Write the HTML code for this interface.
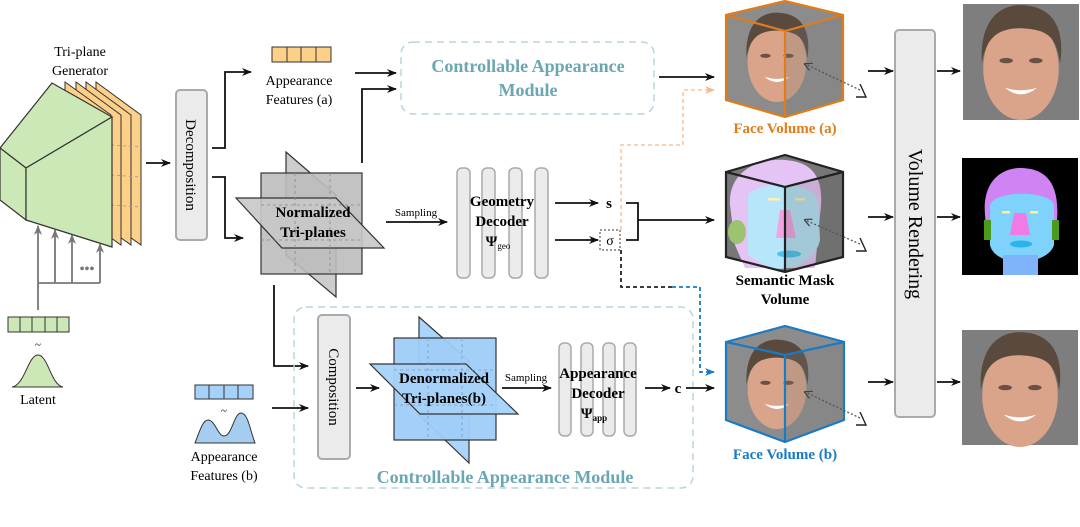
<!DOCTYPE html>
<html><head><meta charset="utf-8"><style>
html,body{margin:0;padding:0;background:#fff;width:1080px;height:527px;overflow:hidden}
svg{display:block}
text{font-family:"Liberation Serif",serif}
.b{font-weight:bold}
</style></head><body>
<svg width="1080" height="527" viewBox="0 0 1080 527" xmlns="http://www.w3.org/2000/svg">
<defs>
<marker id="ar" markerWidth="10" markerHeight="8" refX="9" refY="4" orient="auto" markerUnits="userSpaceOnUse"><path d="M0,0 L10,4 L0,8 L3,4z" fill="#111"/></marker>
<marker id="ag" markerWidth="10" markerHeight="8" refX="9" refY="4" orient="auto" markerUnits="userSpaceOnUse"><path d="M0,0 L10,4 L0,8 L3,4z" fill="#777"/></marker>
<marker id="ao" markerWidth="10" markerHeight="8" refX="9" refY="4" orient="auto" markerUnits="userSpaceOnUse"><path d="M0,0 L10,4 L0,8 L3,4z" fill="#f5b98a"/></marker>
<marker id="ab" markerWidth="10" markerHeight="8" refX="9" refY="4" orient="auto" markerUnits="userSpaceOnUse"><path d="M0,0 L10,4 L0,8 L3,4z" fill="#1a7ac4"/></marker>
<marker id="ad" markerWidth="8" markerHeight="8" refX="7" refY="4" orient="auto" markerUnits="userSpaceOnUse"><path d="M0,0 L8,4 L0,8" fill="none" stroke="#444" stroke-width="1.3"/></marker>
<g id="face">
<ellipse cx="0" cy="2" rx="28" ry="38" fill="#d9a48a"/>
<path d="M-29,-2 C-31,-40 -10,-46 2,-45 C22,-44 33,-30 29,-2 C26,-22 20,-27 0,-28 C-18,-28 -26,-20 -29,-2z" fill="#5a4a3e"/>
<ellipse cx="-11" cy="-4" rx="5" ry="2" fill="#6b5045"/><ellipse cx="11" cy="-4" rx="5" ry="2" fill="#6b5045"/>
<path d="M-12,16 Q0,26 12,16 Q0,20 -12,16z" fill="#fff"/>
</g>
</defs>

<!-- Tri-plane generator -->
<text x="80" y="56" font-size="14" text-anchor="middle">Tri-plane</text>
<text x="80" y="75" font-size="14" text-anchor="middle">Generator</text>
<g stroke="#333" stroke-width="1" fill="#fdd08a">
<polygon points="96,82 141,115 141,245 96,213"/>
<polygon points="86,82 131,115 131,245 86,213"/>
<polygon points="76,82 121,115 121,245 76,213"/>
<polygon points="65,82 111,115 111,245 65,213"/>
</g>
<g stroke="#999" stroke-dasharray="3,3" stroke-width="0.8">
<line x1="111" y1="145" x2="141" y2="147"/><line x1="111" y1="175" x2="141" y2="177"/><line x1="111" y1="205" x2="141" y2="207"/>
</g>
<g stroke="#333" stroke-width="1.2" fill="#cde8b7">
<polygon points="0,148 52,83 112,117 26,168"/>
<polygon points="0,148 26,168 26,220 0,200"/>
<polygon points="26,168 112,117 112,247 26,220"/>
</g>
<g stroke="#777" stroke-width="1.8" fill="none">
<line x1="38" y1="310" x2="38" y2="226" marker-end="url(#ag)"/>
<line x1="55" y1="283" x2="55" y2="230" marker-end="url(#ag)"/>
<line x1="72" y1="283" x2="72" y2="235" marker-end="url(#ag)"/>
<line x1="100" y1="283" x2="100" y2="244" marker-end="url(#ag)"/>
<line x1="38" y1="283" x2="100" y2="283"/>
</g>
<text x="87" y="273" font-size="14" fill="#777" text-anchor="middle" font-weight="bold">•••</text>
<g stroke="#333" fill="#cde8b7"><rect x="8" y="317" width="61" height="15"/>
<line x1="20" y1="317" x2="20" y2="332"/><line x1="32" y1="317" x2="32" y2="332"/><line x1="45" y1="317" x2="45" y2="332"/><line x1="57" y1="317" x2="57" y2="332"/></g>
<text x="38" y="348" font-size="11" text-anchor="middle">~</text>
<path d="M12,387 C25,385 28,355 38,355 C48,355 51,385 63,387z" fill="#cde8b7" stroke="#333" stroke-width="1"/>
<text x="38" y="404" font-size="14" text-anchor="middle">Latent</text>

<line x1="146" y1="163" x2="170" y2="163" stroke="#111" stroke-width="1.8" marker-end="url(#ar)"/>
<rect x="176" y="90" width="31" height="150" rx="4" fill="#ebebeb" stroke="#aaa" stroke-width="2"/>
<text transform="translate(186,165) rotate(90)" font-size="15" text-anchor="middle">Decomposition</text>
<polyline points="212,148 225,148 225,72 251,72" fill="none" stroke="#111" stroke-width="1.8" marker-end="url(#ar)"/>
<polyline points="212,177 225,177 225,238 243,238" fill="none" stroke="#111" stroke-width="1.8" marker-end="url(#ar)"/>

<g stroke="#333" fill="#fdd08a"><rect x="272" y="47" width="59" height="15"/>
<line x1="287" y1="47" x2="287" y2="62"/><line x1="301" y1="47" x2="301" y2="62"/><line x1="316" y1="47" x2="316" y2="62"/></g>
<text x="299" y="85" font-size="14" text-anchor="middle">Appearance</text>
<text x="299" y="104" font-size="14" text-anchor="middle">Features (a)</text>
<line x1="355" y1="73" x2="396" y2="73" stroke="#111" stroke-width="1.8" marker-end="url(#ar)"/>
<polyline points="362,163 362,89 396,89" fill="none" stroke="#111" stroke-width="1.8" marker-end="url(#ar)"/>
<rect x="401" y="42" width="253" height="72" rx="12" fill="none" stroke="#b5d6dd" stroke-width="1.5" stroke-dasharray="7,5"/>
<text x="528" y="72" font-size="18" class="b" fill="#6aa6b3" text-anchor="middle">Controllable Appearance</text>
<text x="528" y="96" font-size="18" class="b" fill="#6aa6b3" text-anchor="middle">Module</text>

<g stroke="#333" stroke-width="1.2" fill="#c8c8c8" fill-opacity="0.9">
<polygon points="286,152 336,195 336,297 286,255"/>
<rect x="261" y="173" width="101" height="101" fill="#bdbdbd"/>
<polygon points="236,198 336,198 384,248 282,248"/>
</g>
<g stroke="#888" stroke-dasharray="3,3" stroke-width="0.8" fill="none">
<line x1="261" y1="205" x2="362" y2="205"/><line x1="261" y1="240" x2="362" y2="240"/>
<line x1="295" y1="173" x2="295" y2="274"/><line x1="330" y1="173" x2="330" y2="274"/>
</g>
<text x="313" y="217" font-size="15" class="b" text-anchor="middle">Normalized</text>
<text x="313" y="237" font-size="15" class="b" text-anchor="middle">Tri-planes</text>
<line x1="386" y1="222" x2="447" y2="222" stroke="#111" stroke-width="1.8" marker-end="url(#ar)"/>
<text x="416" y="216" font-size="11" text-anchor="middle">Sampling</text>
<g fill="#ebebeb" stroke="#aaa" stroke-width="1.5">
<rect x="457" y="168" width="13" height="110" rx="5"/><rect x="482" y="168" width="13" height="110" rx="5"/>
<rect x="509" y="168" width="13" height="110" rx="5"/><rect x="535" y="168" width="13" height="110" rx="5"/>
</g>
<text x="502" y="206" font-size="15" class="b" text-anchor="middle">Geometry</text>
<text x="502" y="226" font-size="15" class="b" text-anchor="middle">Decoder</text>
<text x="498" y="246" font-size="15" class="b" text-anchor="middle">Ψ<tspan font-size="9" font-weight="normal" dy="3">geo</tspan></text>

<line x1="555" y1="203" x2="598" y2="203" stroke="#111" stroke-width="1.8" marker-end="url(#ar)"/>
<text x="609" y="208" font-size="15" class="b" text-anchor="middle">s</text>
<line x1="555" y1="240" x2="598" y2="240" stroke="#111" stroke-width="1.8" marker-end="url(#ar)"/>
<rect x="600" y="230" width="20" height="20" fill="none" stroke="#333" stroke-dasharray="2,2"/>
<text x="610" y="245" font-size="14" text-anchor="middle">σ</text>
<polyline points="626,203 638,203 638,240 626,240" fill="none" stroke="#111" stroke-width="1.8"/>
<line x1="638" y1="220" x2="714" y2="220" stroke="#111" stroke-width="1.8" marker-end="url(#ar)"/>
<polyline points="621,230 621,145 683,145 683,90 714,90" fill="none" stroke="#f5b98a" stroke-width="1.3" stroke-dasharray="4,3" marker-end="url(#ao)"/>
<polyline points="621,250 621,287 672,287" fill="none" stroke="#222" stroke-width="1.8" stroke-dasharray="4,3"/>
<polyline points="672,287 700,287 700,372 714,372" fill="none" stroke="#1a7ac4" stroke-width="1.8" stroke-dasharray="4,3" marker-end="url(#ab)"/>
<line x1="659" y1="77" x2="714" y2="77" stroke="#111" stroke-width="1.8" marker-end="url(#ar)"/>

<polygon points="726,15 785,1 843,15 843,100 785,117 726,100" fill="#8c8c8c"/>
<use href="#face" transform="translate(777,60) scale(1.05)"/>
<polygon points="785,31 843,15 843,100 785,117" fill="#777" fill-opacity="0.25"/>
<g fill="none" stroke="#e07c1a" stroke-width="2.2"><polygon points="726,15 785,1 843,15 843,100 785,117 726,100"/><polyline points="726,15 785,31 843,15"/><line x1="785" y1="31" x2="785" y2="117"/></g>
<text x="785" y="133" font-size="15" class="b" fill="#e07c1a" text-anchor="middle">Face Volume (a)</text>

<polygon points="726,172 785,155 843,172 843,257 785,272 726,257" fill="#777"/>
<path d="M730,205 C728,170 760,158 785,160 C815,162 825,180 820,215 L815,268 L745,268 L735,245z" fill="#e6c3f5"/>
<path d="M748,195 C760,180 810,180 818,200 L820,240 C815,262 790,272 770,268 L748,255z" fill="#b7e6fb"/>
<ellipse cx="737" cy="232" rx="9" ry="12" fill="#9cc46e"/>
<path d="M780,210 L790,210 L796,238 L776,238z" fill="#f2a4e0"/>
<ellipse cx="789" cy="254" rx="12" ry="3.5" fill="#4cc4f0"/>
<rect x="768" y="198" width="12" height="2.5" fill="#fff0b0"/><rect x="795" y="198" width="10" height="2.5" fill="#fff0b0"/>
<polygon points="785,187 843,172 843,257 785,272" fill="#555" fill-opacity="0.2"/>
<g fill="none" stroke="#222" stroke-width="2.2"><polygon points="726,172 785,155 843,172 843,257 785,272 726,257"/><polyline points="726,172 785,187 843,172"/><line x1="785" y1="187" x2="785" y2="272"/></g>
<text x="785" y="285" font-size="15" class="b" text-anchor="middle">Semantic Mask</text>
<text x="785" y="304" font-size="15" class="b" text-anchor="middle">Volume</text>

<polygon points="726,342 785,326 844,342 844,420 785,442 726,420" fill="#8c8c8c"/>
<use href="#face" transform="translate(777,387) scale(1.05)"/>
<polygon points="785,355 844,342 844,420 785,442" fill="#777" fill-opacity="0.25"/>
<g fill="none" stroke="#1a7ac4" stroke-width="2.2"><polygon points="726,342 785,326 844,342 844,420 785,442 726,420"/><polyline points="726,342 785,355 844,342"/><line x1="785" y1="355" x2="785" y2="442"/></g>
<text x="785" y="459" font-size="15" class="b" fill="#1a7ac4" text-anchor="middle">Face Volume (b)</text>

<g stroke="#555" stroke-width="1.3" stroke-dasharray="2,2" fill="none">
<line x1="860" y1="90" x2="805" y2="64" marker-end="url(#ad)"/>
<line x1="860" y1="244" x2="805" y2="220" marker-end="url(#ad)"/>
<line x1="860" y1="418" x2="805" y2="392" marker-end="url(#ad)"/>
</g>
<g stroke="#222" stroke-width="1.4" fill="none">
<path d="M860,84 L866,97 L856,97"/><path d="M860,238 L866,251 L856,251"/><path d="M860,412 L866,425 L856,425"/>
</g>

<rect x="895" y="30" width="40" height="387" rx="4" fill="#ebebeb" stroke="#aaa" stroke-width="2"/>
<text transform="translate(909,224) rotate(90)" font-size="20" text-anchor="middle">Volume Rendering</text>
<g stroke="#111" stroke-width="1.8" marker-end="url(#ar)">
<line x1="868" y1="71" x2="893" y2="71"/><line x1="868" y1="217" x2="893" y2="217"/><line x1="868" y1="382" x2="893" y2="382"/>
<line x1="937" y1="71" x2="960" y2="71"/><line x1="937" y1="217" x2="960" y2="217"/><line x1="937" y1="382" x2="960" y2="382"/>
</g>

<rect x="963" y="4" width="116" height="116" fill="#7e7e7e"/>
<use href="#face" transform="translate(1021,66) scale(1.35)"/>
<rect x="962" y="158" width="116" height="117" fill="#000"/>
<path d="M985,215 C982,178 1005,168 1020,168 C1045,168 1060,182 1057,220 L1055,240 L987,240z" fill="#d083f2"/>
<path d="M990,205 C995,190 1050,190 1054,205 L1054,245 C1050,258 1030,262 1020,262 C1005,262 992,255 990,245z" fill="#7fd2fc"/>
<rect x="1003" y="255" width="35" height="20" fill="#7fb4fa"/>
<rect x="984" y="220" width="7" height="20" fill="#4a9a1e"/><rect x="1052" y="220" width="7" height="20" fill="#4a9a1e"/>
<path d="M1014,213 L1026,213 L1030,235 L1010,235z" fill="#f07ae8"/>
<ellipse cx="1021" cy="244" rx="11" ry="3.5" fill="#2ab4ec"/>
<rect x="1002" y="211" width="8" height="2.5" fill="#fff28a"/><rect x="1030" y="211" width="8" height="2.5" fill="#fff28a"/>
<rect x="962" y="330" width="116" height="115" fill="#7e7e7e"/>
<use href="#face" transform="translate(1020,393) scale(1.35)"/>

<polyline points="274,285 274,366 308,366" fill="none" stroke="#111" stroke-width="1.8" marker-end="url(#ar)"/>
<g stroke="#333" fill="#a6d2fa"><rect x="195" y="385" width="58" height="14"/>
<line x1="209" y1="385" x2="209" y2="399"/><line x1="224" y1="385" x2="224" y2="399"/><line x1="238" y1="385" x2="238" y2="399"/></g>
<text x="224" y="414" font-size="11" text-anchor="middle">~</text>
<path d="M195,443 C200,430 203,420 208,420 C215,420 218,436 224,436 C232,436 234,413 241,413 C248,413 250,430 255,443z" fill="#a6cdf0" stroke="#333" stroke-width="1"/>
<text x="224" y="461" font-size="14" text-anchor="middle">Appearance</text>
<text x="224" y="480" font-size="14" text-anchor="middle">Features (b)</text>
<line x1="272" y1="408" x2="308" y2="408" stroke="#111" stroke-width="1.8" marker-end="url(#ar)"/>
<rect x="294" y="307" width="399" height="181" rx="12" fill="none" stroke="#b5d6dd" stroke-width="1.5" stroke-dasharray="7,5"/>
<text x="505" y="483" font-size="18" class="b" fill="#6aa6b3" text-anchor="middle">Controllable Appearance Module</text>
<rect x="318" y="315" width="32" height="144" rx="4" fill="#ebebeb" stroke="#aaa" stroke-width="2"/>
<text transform="translate(329,387) rotate(90)" font-size="15" text-anchor="middle">Composition</text>
<line x1="356" y1="388" x2="379" y2="388" stroke="#111" stroke-width="1.8" marker-end="url(#ar)"/>
<g stroke="#333" stroke-width="1.2" fill="#a6d2fa" fill-opacity="0.95">
<polygon points="419,317 469,361 469,463 419,415"/>
<rect x="394" y="338" width="102" height="102" fill="#9fcdf8"/>
<polygon points="370,364 466,364 518,414 420,414"/>
</g>
<g stroke="#7a9cc0" stroke-dasharray="3,3" stroke-width="0.8" fill="none">
<line x1="394" y1="370" x2="496" y2="370"/><line x1="394" y1="405" x2="496" y2="405"/>
<line x1="428" y1="338" x2="428" y2="440"/><line x1="462" y1="338" x2="462" y2="440"/>
</g>
<text x="444" y="383" font-size="15" class="b" text-anchor="middle">Denormalized</text>
<text x="444" y="403" font-size="15" class="b" text-anchor="middle">Tri-planes(b)</text>
<line x1="502" y1="388" x2="551" y2="388" stroke="#111" stroke-width="1.8" marker-end="url(#ar)"/>
<text x="526" y="381" font-size="11" text-anchor="middle">Sampling</text>
<g fill="#ebebeb" stroke="#aaa" stroke-width="1.5">
<rect x="559" y="343" width="12" height="93" rx="5"/><rect x="581" y="343" width="12" height="93" rx="5"/>
<rect x="603" y="343" width="12" height="93" rx="5"/><rect x="624" y="343" width="12" height="93" rx="5"/>
</g>
<text x="598" y="378" font-size="15" class="b" text-anchor="middle">Appearance</text>
<text x="598" y="398" font-size="15" class="b" text-anchor="middle">Decoder</text>
<text x="594" y="418" font-size="15" class="b" text-anchor="middle">Ψ<tspan font-size="9" dy="3">app</tspan></text>
<line x1="645" y1="388" x2="670" y2="388" stroke="#111" stroke-width="1.8" marker-end="url(#ar)"/>
<text x="678" y="393" font-size="15" class="b" text-anchor="middle">c</text>
<line x1="686" y1="388" x2="714" y2="388" stroke="#111" stroke-width="1.8" marker-end="url(#ar)"/>
</svg>
</body></html>
